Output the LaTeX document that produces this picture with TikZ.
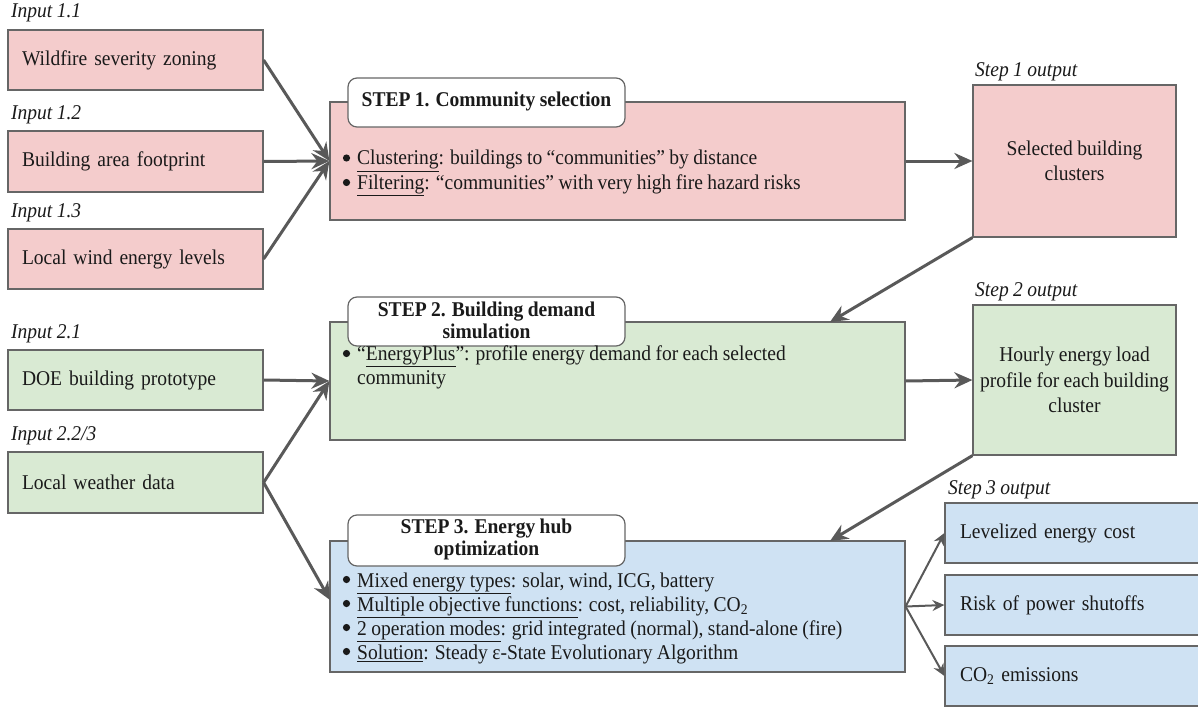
\documentclass[tikz,border=0pt]{standalone}
\usepackage{fontspec}
\setmainfont[FakeStretch=0.93,WordSpace=0.9]{Liberation Serif}
\usetikzlibrary{arrows.meta}
\definecolor{pinkf}{HTML}{F4CCCC}
\definecolor{greenf}{HTML}{D9EAD3}
\definecolor{bluef}{HTML}{CFE2F3}
\definecolor{bord}{HTML}{666666}
\definecolor{arr}{HTML}{595959}
\definecolor{txt}{HTML}{1A1A1A}
\begin{document}
\begin{tikzpicture}[x=1pt,y=-1pt,
  every node/.style={text=txt},
  box/.style={draw=bord, line width=1.2pt, inner sep=0pt},
  inbox/.style={box, minimum width=255pt, minimum height=60pt, text width=227pt, inner xsep=14pt, align=left, font=\fontsize{21}{25}\selectfont},
  stepbox/.style={box, minimum width=575pt},
  titlebox/.style={box, fill=white, rounded corners=9pt, minimum width=277pt},
  titletext/.style={inner sep=0pt, align=center, font=\fontsize{21}{22}\selectfont\bfseries},
  outbox/.style={box, minimum width=203pt, align=center, font=\fontsize{21}{25.5}\selectfont},
  out3/.style={box, fill=bluef, minimum width=265pt, minimum height=60pt, text width=235pt, inner xsep=15pt, align=left, font=\fontsize{21}{25}\selectfont},
  lab/.style={anchor=west, inner sep=0pt, font=\fontsize{21}{25}\selectfont\itshape},
  bul/.style={anchor=west, inner sep=0pt, align=left, font=\fontsize{21}{24.5}\selectfont},
  dot/.style={fill=txt},
  arrw/.style={draw=arr, line width=3pt, -{Stealth[length=18pt,width=16pt,inset=6pt]}},
  arrs/.style={draw=arr, line width=2pt, -{Stealth[length=12pt,width=11pt,inset=4pt]}}
]
\useasboundingbox (0,0) rectangle (1198,706);

% inputs
\node[lab] (l11) at (11,13) {Input 1.1};
\node[inbox, fill=pinkf] (i11) at (135.5,60) {Wildfire severity zoning};
\node[lab] (l12) at (11,115) {Input 1.2};
\node[inbox, fill=pinkf, minimum height=61pt] (i12) at (135.5,161.5) {Building area footprint};
\node[lab] (l13) at (11,213) {Input 1.3};
\node[inbox, fill=pinkf] (i13) at (135.5,259) {Local wind energy levels};
\node[lab] (l21) at (11,334) {Input 2.1};
\node[inbox, fill=greenf] (i21) at (135.5,380) {DOE building prototype};
\node[lab] (l22) at (11,436) {Input 2.2/3};
\node[inbox, fill=greenf, minimum height=61pt] (i22) at (135.5,482.5) {Local weather data};

% step 1
\node[stepbox, fill=pinkf, minimum height=118pt] (s1) at (617.5,161) {};
\node[titlebox, minimum height=49pt] (t1) at (486.5,102.5) {};
\node[titletext] (t1t) at (486.5,101) {STEP 1. Community selection};
\node[bul] (b1) at (357,173) {\underline{Clustering}: buildings to “communities” by distance\\
\underline{Filtering}: “communities” with very high fire hazard risks};
\fill[dot] (346.5,158) circle (3.6);
\fill[dot] (346.5,182.5) circle (3.6);

% step 2
\node[stepbox, fill=greenf, minimum height=118pt] (s2) at (617.5,381) {};
\node[titlebox, minimum height=49pt] (t2) at (486.5,321.5) {};
\node[titletext] (t2t) at (486.5,320) {STEP 2. Building demand\\simulation};
\node[bul] (b2) at (357,367.5) {“\underline{EnergyPlus}”: profile energy demand for each selected\\
community};
\fill[dot] (346.5,353.5) circle (3.6);

% step 3
\node[stepbox, fill=bluef, minimum height=131pt] (s3) at (617.5,606.5) {};
\node[titlebox, minimum height=51pt] (t3) at (486.5,540.5) {};
\node[titletext] (t3t) at (486.5,539) {STEP 3. Energy hub\\optimization};
\node[bul, font=\fontsize{21}{24}\selectfont] (b3) at (357,618.5) {\underline{Mixed energy types}: solar, wind, ICG, battery\\
\underline{Multiple objective functions}: cost, reliability, CO\textsubscript{2}\\
\underline{2 operation modes}: grid integrated (normal), stand-alone (fire)\\
\underline{Solution}: Steady ε-State Evolutionary Algorithm};
\foreach \yy in {579.5,603.5,627.5,651.5} {\fill[dot] (346.5,\yy) circle (3.6);}

% outputs
\node[lab] (lo1) at (975,72) {Step 1 output};
\node[outbox, fill=pinkf, minimum height=152pt] (o1) at (1074.5,161) {Selected building\\clusters};
\node[lab] (lo2) at (975,292) {Step 2 output};
\node[outbox, fill=greenf, minimum height=150pt] (o2) at (1074.5,380) {Hourly energy load\\profile for each building\\cluster};
\node[lab] (lo3) at (948,490) {Step 3 output};
\node[out3] (o3a) at (1077.5,533) {Levelized energy cost};
\node[out3] (o3b) at (1077.5,605) {Risk of power shutoffs};
\node[out3] (o3c) at (1077.5,676) {CO\textsubscript{2} emissions};

% connectors
\coordinate (e3) at (330,600);
\coordinate (d2) at (830,322);
\coordinate (d3) at (830,541);
\draw[arrw] (i11.east) -- (s1.west);
\draw[arrw] (i12.east) -- (s1.west);
\draw[arrw] (i13.east) -- (s1.west);
\draw[arrw] (i21.east) -- (s2.west);
\draw[arrw] (i22.east) -- (s2.west);
\draw[arrw] (i22.east) -- (e3);
\draw[arrw] (s1.east) -- (o1.west);
\draw[arrw] (s2.east) -- (o2.west);
\draw[arrw] (o1.south west) -- (d2);
\draw[arrw] (o2.south west) -- (d3);
\draw[arrs] (s3.east) -- (o3a.west);
\draw[arrs] (s3.east) -- (o3b.west);
\draw[arrs] (s3.east) -- (o3c.west);
\end{tikzpicture}
\end{document}
